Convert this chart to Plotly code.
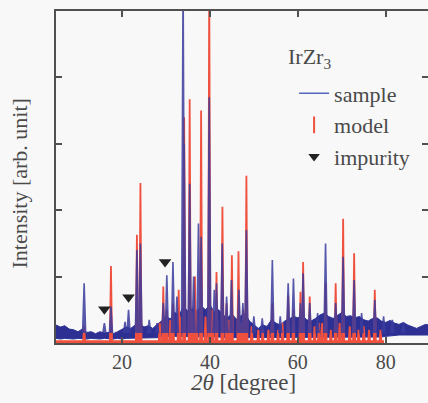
import plotly.graph_objects as go

# ---- measured pattern (2theta in degrees, intensity in arbitrary units) ----
# noise band of the measured pattern: lower / upper envelope on a 1-degree grid
band_2theta = list(range(5, 91))
band_low = [0.07, 0.06, 0.07, 0.06, 0.06, 0.07, 0.06, 0.06, 0.07, 0.06,
            0.06, 0.07, 0.06, 0.06, 0.07, 0.06, 0.07, 0.07, 0.08, 0.08,
            0.07, 0.07, 0.07, 0.08, 0.09, 0.1, 0.1, 0.1, 0.1, 0.1,
            0.1, 0.1, 0.1, 0.1, 0.09, 0.09, 0.09, 0.09, 0.08, 0.08,
            0.08, 0.08, 0.08, 0.08, 0.08, 0.08, 0.08, 0.08, 0.08, 0.08,
            0.08, 0.08, 0.08, 0.08, 0.08, 0.08, 0.08, 0.08, 0.08, 0.08,
            0.08, 0.08, 0.08, 0.08, 0.08, 0.08, 0.08, 0.08, 0.08, 0.08,
            0.08, 0.08, 0.08, 0.08, 0.09, 0.1, 0.11, 0.12, 0.12, 0.12,
            0.12, 0.13, 0.12, 0.12, 0.12, 0.12]
band_high = [0.27, 0.24, 0.26, 0.21, 0.2, 0.17, 0.21, 0.16, 0.17, 0.14,
             0.17, 0.15, 0.16, 0.14, 0.17, 0.2, 0.24, 0.22, 0.27, 0.3,
             0.24, 0.26, 0.22, 0.28, 0.33, 0.4, 0.36, 0.46, 0.42, 0.55,
             0.48, 0.52, 0.47, 0.56, 0.5, 0.58, 0.46, 0.5, 0.42, 0.38,
             0.44, 0.36, 0.4, 0.45, 0.33, 0.28, 0.22, 0.27, 0.25, 0.35,
             0.3, 0.27, 0.33, 0.36, 0.4, 0.38, 0.42, 0.35, 0.33, 0.37,
             0.42, 0.45, 0.4, 0.37, 0.42, 0.46, 0.4, 0.41, 0.38, 0.4,
             0.35, 0.33, 0.37, 0.38, 0.33, 0.31, 0.34, 0.3, 0.28, 0.31,
             0.27, 0.24, 0.22, 0.25, 0.28, 0.27]

# reflections of the measured pattern
sample_2theta = [11.4, 16.0, 17.5, 20.7, 21.5, 23.4, 24.2, 26.2, 28.0, 29.4,
                 30.2, 31.6, 32.5, 33.9, 34.15, 35.4, 36.3, 37.4, 38.0, 39.85,
                 41.0, 41.5, 42.8, 43.8, 44.9, 46.6, 47.5, 48.3, 50.0, 51.9,
                 54.2, 56.0, 57.8, 59.0, 60.6, 61.2, 62.7, 64.5, 66.3, 68.6,
                 70.3, 72.8, 74.5, 77.5, 79.5, 81.5, 84.0]
sample_intensity = [0.90, 0.30, 0.55, 0.32, 0.50, 1.40, 1.50, 0.35, 0.30, 0.60,
                    1.02, 1.22, 0.70, 5.50, 3.00, 2.40, 1.00, 1.80, 1.60, 3.70,
                    0.80, 0.90, 1.50, 0.70, 0.95, 0.80, 0.60, 1.70, 0.40, 0.37,
                    1.25, 0.40, 0.90, 0.97, 0.60, 1.05, 0.60, 0.45, 1.50, 0.60,
                    1.30, 0.95, 0.45, 0.65, 0.40, 0.35, 0.30]

# ---- calculated IrZr3 pattern ----
model_2theta = [11.4, 17.5, 23.4, 24.2, 28.6, 29.4, 30.2, 31.0, 31.6, 32.9,
                33.2, 34.15, 35.4, 36.0, 36.6, 37.0, 38.0, 39.0, 39.85, 40.6,
                41.5, 42.85, 43.8, 44.3, 45.0, 46.5, 47.0, 47.6, 48.3, 49.5,
                51.0, 52.0, 53.3, 54.2, 55.5, 56.5, 57.8, 59.0, 60.6, 61.2,
                62.7, 63.8, 64.8, 65.5, 66.3, 67.5, 68.6, 69.5, 70.3, 71.8,
                72.8, 73.8, 75.0, 76.2, 77.5, 78.8]
model_intensity = [0.25, 1.16, 1.63, 2.41, 0.30, 0.85, 0.50, 0.35, 0.60, 0.80,
                   0.40, 3.40, 3.67, 0.45, 1.00, 0.50, 3.50, 0.40, 5.50, 0.50,
                   1.07, 2.05, 0.60, 0.35, 1.32, 1.38, 0.30, 0.50, 2.52, 0.25,
                   0.20, 0.20, 0.20, 0.60, 0.20, 0.30, 0.72, 0.50, 0.77, 1.22,
                   0.70, 0.25, 0.30, 0.30, 0.90, 0.20, 0.90, 0.30, 1.87, 0.25,
                   1.35, 0.20, 0.25, 0.20, 0.80, 0.20]
model_start, model_end = 5.0, 79.6

# ---- impurity reflections ----
impurity_2theta = [16.0, 21.5, 29.8]
impurity_level = [0.51, 0.69, 1.22]

# ---- axes ----
x_ticks = [20, 40, 60, 80]
x_tick_text = ["20", "40", "60", "80"]
y_ticks = [0, 1, 2, 3, 4, 5]

BLUE = "#2d3092"
BLUE_PEAK = "#3a3c9e"
BLUE_LEG = "#5468c0"
RED = "#f0503e"
INK = "#4a4a4a"
FONT = "Liberation Serif"


def spikes(pos, hts, half_width, base):
    xs, ys = [], []
    for p, h in zip(pos, hts):
        xs += [p - half_width, p, p + half_width, None]
        ys += [base, h, base, None]
    return xs, ys


fig = go.Figure()

# noise band of the measurement
fig.add_trace(go.Scatter(x=band_2theta, y=band_low, mode="lines",
                         line=dict(color=BLUE, width=1), showlegend=False,
                         hoverinfo="skip"))
fig.add_trace(go.Scatter(x=band_2theta, y=band_high, mode="lines",
                         line=dict(color=BLUE, width=1), fill="tonexty",
                         fillcolor=BLUE, showlegend=False, hoverinfo="skip"))

# calculated pattern: baseline plus reflections
fig.add_trace(go.Scatter(x=[model_start, model_end], y=[0.02, 0.02], mode="lines",
                         line=dict(color=RED, width=3), showlegend=False,
                         hoverinfo="skip"))
mx, my = spikes(model_2theta, model_intensity, 0.25, 0.0)
fig.add_trace(go.Scatter(x=mx, y=my, mode="lines", fill="toself",
                         fillcolor=RED, line=dict(color=RED, width=1.8),
                         showlegend=False))

# measured reflections
sx, sy = spikes(sample_2theta, sample_intensity, 0.35, 0.15)
fig.add_trace(go.Scatter(x=sx, y=sy, mode="lines", fill="toself",
                         fillcolor=BLUE_PEAK, opacity=0.85,
                         line=dict(color=BLUE_PEAK, width=1.6), showlegend=False))

# impurity markers
fig.add_trace(go.Scatter(x=impurity_2theta, y=impurity_level, mode="markers",
                         marker=dict(symbol="triangle-down", size=11,
                                     color="#222222"),
                         showlegend=False))

# legend entries
fig.add_trace(go.Scatter(x=[None], y=[None], mode="lines", name="sample",
                         line=dict(color=BLUE_LEG, width=1.5), legendgroup="a"))
fig.add_trace(go.Scatter(x=[None], y=[None], mode="markers", name="model",
                         marker=dict(symbol="line-ns", size=12,
                                     line=dict(color=RED, width=2)),
                         legendgroup="b"))
fig.add_trace(go.Scatter(x=[None], y=[None], mode="markers", name="impurity",
                         marker=dict(symbol="triangle-down", size=10,
                                     color="#222222"),
                         legendgroup="c"))

axis_common = dict(showgrid=False, zeroline=False, showline=True,
                   linecolor="#505050", linewidth=1.5, ticks="inside",
                   ticklen=6, tickwidth=1.5, tickcolor="#505050")

fig.update_layout(
    width=428, height=403,
    margin=dict(l=56, r=0, t=11, b=60),
    paper_bgcolor="#f8f8f8", plot_bgcolor="#f8f8f8",
    font=dict(family=FONT, color=INK, size=20),
    xaxis=dict(range=[5, 89.6], tickvals=x_ticks, ticktext=x_tick_text,
               mirror="ticks", tickfont=dict(size=20), **axis_common),
    yaxis=dict(range=[0, 5], tickvals=y_ticks, showticklabels=False,
               mirror=False, **axis_common),
    yaxis2=dict(range=[0, 5], tickvals=y_ticks, showticklabels=False,
                overlaying="y", side="right", showline=False, showgrid=False,
                zeroline=False, ticks="inside", ticklen=6, tickwidth=1.5,
                tickcolor="#505050"),
    showlegend=True,
    legend=dict(x=0.64, y=0.815, xanchor="left", yanchor="top",
                bgcolor="rgba(0,0,0,0)", font=dict(size=22, family=FONT),
                tracegroupgap=0, itemwidth=30),
    annotations=[
        dict(text="IrZr<sub>3</sub>", xref="paper", yref="paper",
             x=(286 - 56) / 372, y=1 - (58 - 11) / 332, xanchor="left",
             yanchor="middle", showarrow=False, font=dict(size=22)),
        dict(text="<i>2θ</i> [degree]", xref="paper", yref="paper",
             x=0.503, y=-0.12, xanchor="center", yanchor="middle",
             showarrow=False, font=dict(size=23)),
        dict(text="Intensity [arb. unit]", xref="paper", yref="paper",
             x=-0.097, y=0.48, xanchor="center", yanchor="middle",
             textangle=-90, showarrow=False, font=dict(size=22)),
    ],
)
# right-hand ticks live on the overlaying axis
fig.add_trace(go.Scatter(x=[None], y=[None], yaxis="y2", showlegend=False))

fig.write_html("out.html")
